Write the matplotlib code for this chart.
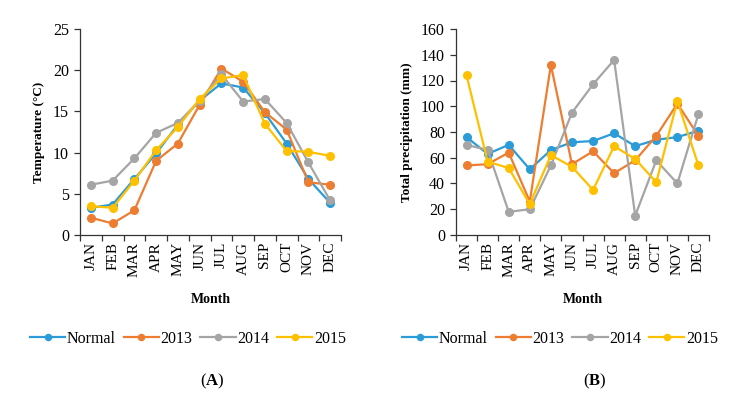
import matplotlib
matplotlib.use("Agg")
import matplotlib.pyplot as plt
from matplotlib.ticker import FixedLocator

plt.rcParams['font.family'] = ['Liberation Serif', 'DejaVu Serif']
plt.rcParams['mathtext.fontset'] = 'custom'
plt.rcParams['mathtext.rm'] = 'Liberation Serif'
plt.rcParams['mathtext.bf'] = 'Liberation Serif:bold'

months = ["JAN", "FEB", "MAR", "APR", "MAY", "JUN", "JUL", "AUG", "SEP", "OCT", "NOV", "DEC"]
series_names = ["Normal", "2013", "2014", "2015"]
colors = ["#2B9CD8", "#ED7D31", "#A5A5A5", "#FFC000"]

temp_normal = [3.3, 3.7, 6.8, 9.9, 13.4, 16.3, 18.4, 17.9, 14.8, 11.1, 6.8, 3.9]
temp_2013 = [2.1, 1.4, 3.0, 9.0, 11.1, 15.8, 20.2, 18.6, 14.9, 12.8, 6.4, 6.1]
temp_2014 = [6.1, 6.6, 9.3, 12.4, 13.6, 16.3, 19.5, 16.2, 16.5, 13.6, 8.8, 4.2]
temp_2015 = [3.5, 3.3, 6.6, 10.3, 13.1, 16.5, 19.0, 19.4, 13.5, 10.2, 10.1, 9.6]

prec_normal = [76, 63, 70, 51, 66, 72, 73, 79, 69, 74, 76, 81]
prec_2013 = [54, 55, 64, 26, 132, 55, 65, 48, 58, 77, 102, 77]
prec_2014 = [70, 66, 18, 20, 54, 95, 117, 136, 15, 58, 40, 94]
prec_2015 = [124, 57, 52, 24, 62, 53, 35, 69, 59, 41, 104, 54]

fig = plt.figure(figsize=(7.4, 4.07), dpi=100)
W, H = 740, 407

def make_ax(x0, x1, y0, y1):
    return fig.add_axes([x0 / W, 1 - y1 / H, (x1 - x0) / W, (y1 - y0) / H])

axA = make_ax(80, 341, 29, 235)
axB = make_ax(456, 709, 29, 235)

panels = [
    (axA, [temp_normal, temp_2013, temp_2014, temp_2015], 25, 5, "Temperature (°C)", "A", 188, 212),
    (axB, [prec_normal, prec_2013, prec_2014, prec_2015], 160, 20, "Total precipitation (mm)", "B", 560, 595),
]

for ax, data, ymax, step, ylabel, tag, leg_x, tag_x in panels:
    x = list(range(len(months)))
    for vals, name, c in zip(data, series_names, colors):
        ax.plot(x, vals, color=c, lw=1.6, marker='o', ms=5.5, label=name, clip_on=False)
    ax.set_xlim(-0.5, len(months) - 0.5)
    ax.set_ylim(0, ymax)
    ax.set_yticks(range(0, ymax + 1, step))
    ax.set_xticks(x)
    ax.set_xticklabels(months, rotation=90, fontsize=11)
    ax.tick_params(axis='x', length=0, pad=5)
    ax.xaxis.set_minor_locator(FixedLocator([i - 0.5 for i in range(len(months) + 1)]))
    ax.tick_params(axis='x', which='minor', length=4, width=0.9, color='#333333', direction='out')
    ax.tick_params(axis='y', length=4, width=0.9, color='#333333', labelsize=11.5, pad=4)
    for s in ['top', 'right']:
        ax.spines[s].set_visible(False)
    for s in ['left', 'bottom']:
        ax.spines[s].set_color('#333333')
        ax.spines[s].set_linewidth(0.9)
    ax.set_ylabel(ylabel, fontweight='bold', fontsize=9.5, labelpad=6)
    ax.set_xlabel("Month", fontweight='bold', fontsize=10, labelpad=12)
    fig.legend(*ax.get_legend_handles_labels(), loc='center', bbox_to_anchor=(leg_x / W, 1 - 339 / H),
               ncol=4, frameon=False, fontsize=11.5, handlelength=2.2, handletextpad=0.1,
               columnspacing=0.5, markerscale=0.8)
    fig.text(tag_x / W, 1 - 381 / H, "($\\mathbf{" + tag + "}$)", ha='center', va='center', fontsize=12)

fig.savefig("out.png", dpi=100)
